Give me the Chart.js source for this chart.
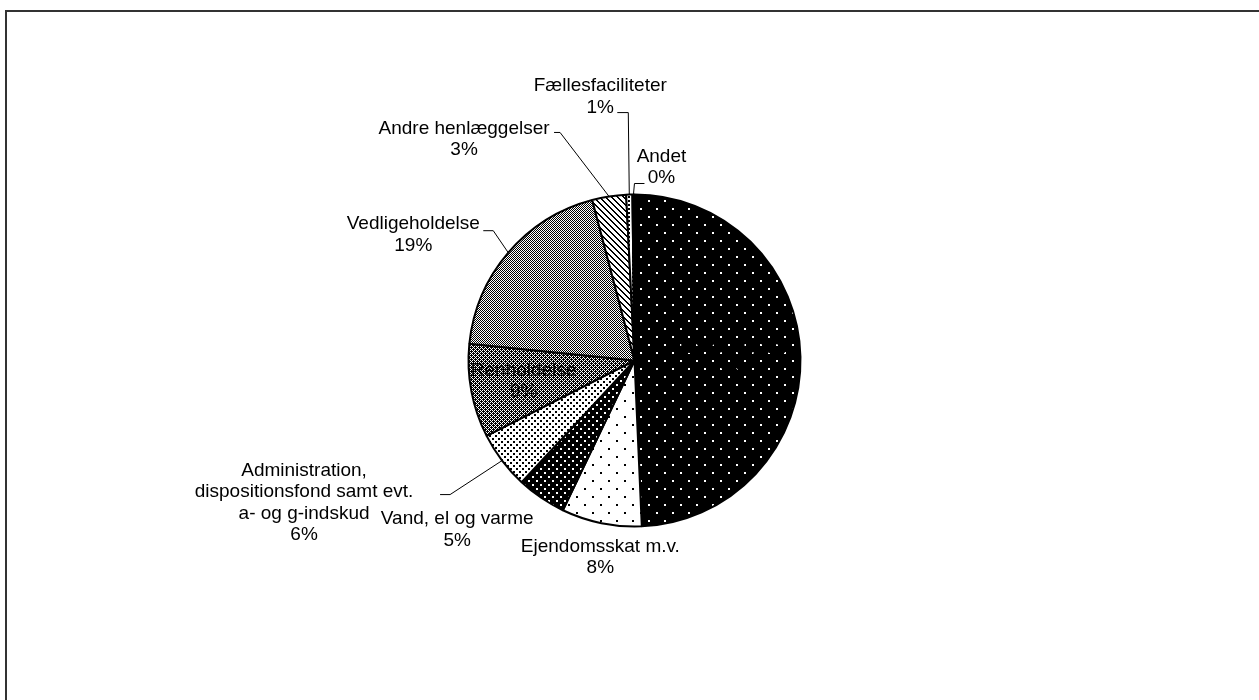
<!DOCTYPE html>
<html>
<head>
<meta charset="utf-8">
<script src="https://cdn.jsdelivr.net/npm/chart.js@4.4.0/dist/chart.umd.min.js"></script>
<style>
  html, body { margin: 0; padding: 0; background: #fff; overflow: hidden; }
  #wrap { position: relative; width: 1259px; height: 700px; }
  #frame { position: absolute; left: 5px; top: 10px; width: 1300px; height: 800px; border: 2px solid #333; box-sizing: border-box; }
  #pie { position: absolute; left: 0; top: 0; }
</style>
</head>
<body>
<div id="wrap">
  <div id="frame"></div>
  <canvas id="pie" width="1259" height="700"></canvas>
</div>
<script>
// slice names, clockwise from 12 o'clock
const categories = [
    "Kapitaludgifter",
    "Ejendomsskat m.v.",
    "Vand, el og varme",
    "Administration,\ndispositionsfond samt evt.\na- og g-indskud",
    "Renholdelse",
    "Vedligeholdelse",
    "Andre henlæggelser",
    "Fællesfaciliteter",
    "Andet"
];
// share of budget in percent
const shares = [49.3, 7.8, 4.8, 5.6, 9.1, 19.3, 3.3, 0.6, 0.2];

// label placement relative to the slice's outer edge midpoint
const labelLayout = [
    { inside: 0.56 },
    { dx: -1, dy: 34 },
    { dx: -84, dy: 32 },
    { dx: -198, dy: 42, lx: -62, ly: 34, stub: 10 },
    { inside: 0.68 },
    { dx: -95, dy: -18, lx: -25, ly: -22, stub: 10 },
    { dx: -145, dy: -57, lx: -55, ly: -64, stub: 6 },
    { dx: -29, dy: -98, lx: -12, ly: -82, stub: 11 },
    { dx: 28, dy: -27, lx: 11, ly: -11, stub: -10 }
];

function makePattern(bg, fg, size, dots) {
    const tile = document.createElement('canvas');
    tile.width = size;
    tile.height = size;
    const t = tile.getContext('2d');
    t.fillStyle = bg;
    t.fillRect(0, 0, size, size);
    t.fillStyle = fg;
    dots.forEach(d => t.fillRect(d[0], d[1], d[2] || 1, d[3] || 1));
    return document.createElement('canvas').getContext('2d').createPattern(tile, 'repeat');
}

function lattice(size, test) {
    const d = [];
    for (let y = 0; y < size; y++) {
        for (let x = 0; x < size; x++) {
            if (test(x, y)) d.push([x, y]);
        }
    }
    return d;
}

const fills = [
    makePattern('#000', '#fff', 16, [[0, 0, 2, 2], [8, 8, 2, 2]]),
    makePattern('#fff', '#000', 16, [[0, 0, 2, 2], [8, 8, 2, 2]]),
    makePattern('#000', '#fff', 8, [[0, 0, 2, 2], [4, 4, 2, 2]]),
    makePattern('#fff', '#000', 6, [[0, 0, 2, 2], [3, 3, 2, 2]]),
    // dark trellis
    makePattern('#000', '#fff', 4, lattice(4, (x, y) => (x + y) % 2 === 0 && !(x === 1 && y === 1) && !(x === 3 && y === 3))),
    // light trellis
    makePattern('#fff', '#000', 4, lattice(4, (x, y) => (x + y) % 2 === 0)),
    // wide downward diagonal
    makePattern('#fff', '#000', 6, lattice(6, (x, y) => ((x - y) % 6 + 6) % 6 < 2)),
    makePattern('#fff', '#000', 4, [[0, 0, 2, 2]]),
    '#000'
];

const sliceLabels = {
    id: 'sliceLabels',
    afterDatasetsDraw(chart) {
        const ctx = chart.ctx;
        const meta = chart.getDatasetMeta(0);
        const lineH = 21.5;
        ctx.save();
        ctx.font = '19px "Liberation Sans", Arial, sans-serif';
        ctx.fillStyle = '#000';
        ctx.strokeStyle = '#000';
        ctx.lineWidth = 1;
        ctx.textAlign = 'center';
        ctx.textBaseline = 'middle';
        meta.data.forEach((arc, i) => {
            const p = arc.getProps(['x', 'y', 'startAngle', 'endAngle', 'outerRadius'], true);
            const mid = (p.startAngle + p.endAngle) / 2;
            const lay = labelLayout[i];
            const lines = categories[i].split('\n').concat(Math.round(shares[i]) + '%');
            let cx, cy;
            if (lay.inside) {
                cx = p.x + Math.cos(mid) * p.outerRadius * lay.inside;
                cy = p.y + Math.sin(mid) * p.outerRadius * lay.inside;
            } else {
                const ex = p.x + Math.cos(mid) * p.outerRadius;
                const ey = p.y + Math.sin(mid) * p.outerRadius;
                cx = ex + lay.dx;
                cy = ey + lay.dy;
                if (lay.stub) {
                    const ax = ex + lay.lx, ay = ey + lay.ly;
                    ctx.beginPath();
                    ctx.moveTo(ax, ay);
                    ctx.lineTo(ax + lay.stub, ay);
                    ctx.lineTo(ex, ey);
                    ctx.stroke();
                }
            }
            lines.forEach((txt, k) => {
                ctx.fillText(txt, cx, cy + (k - (lines.length - 1) / 2) * lineH);
            });
        });
        ctx.restore();
    }
};

new Chart(document.getElementById('pie').getContext('2d'), {
    type: 'pie',
    data: {
        labels: categories,
        datasets: [{
            data: shares,
            backgroundColor: fills,
            borderColor: '#000',
            borderWidth: 2,
            radius: 166
        }]
    },
    options: {
        responsive: false,
        animation: false,
        layout: { padding: { left: 10, right: 0, top: 194.5, bottom: 173.5 } },
        plugins: {
            legend: { display: false },
            tooltip: { enabled: false }
        }
    },
    plugins: [sliceLabels]
});
</script>
</body>
</html>
